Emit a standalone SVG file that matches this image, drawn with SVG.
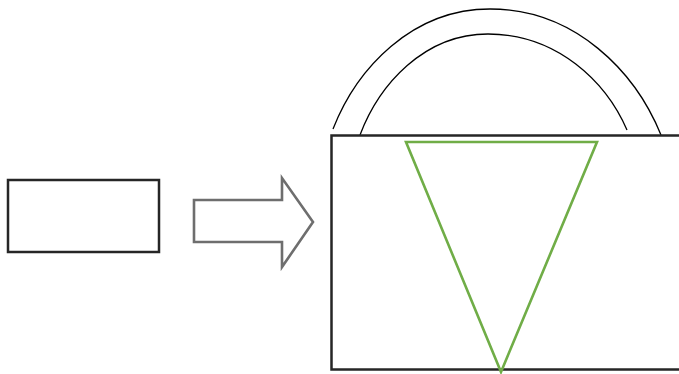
<svg xmlns="http://www.w3.org/2000/svg" width="679" height="374" viewBox="0 0 679 374">
<style>
.box{fill:#ffffff;stroke:#262626;stroke-width:2.5}
.arc{fill:none;stroke:#000000;stroke-width:1.3}
.tri{fill:none;stroke:#70AD47;stroke-width:2.6;stroke-linejoin:miter}
.blk{fill:#ffffff;stroke:#6e6e6e;stroke-width:2.6;stroke-linejoin:miter}
</style>
<defs>
<filter id="soft" x="-5%" y="-5%" width="110%" height="110%"><feGaussianBlur stdDeviation="0.5"/></filter>
</defs>
<rect width="679" height="374" fill="#ffffff"/>
<g id="source">
<rect class="box" x="8" y="180" width="151" height="72"/>
</g>
<g id="connectors">
<polygon class="blk" filter="url(#soft)" points="194,200 282,200 282,178 313,222 282,267 282,242 194,242"/>
</g>
<g id="target">
<path class="arc" d="M333,129 C356.5,69 411.5,9 490,9 C575.5,9 635.4,72 661,135"/>
<path class="arc" d="M360,135 C379.2,84.5 424,34 488,34 C557.5,34 606.2,82 627,130"/>
<rect class="box" x="331.5" y="135.5" width="360" height="234"/>
<polygon class="tri" points="406,142 597,142 501,372"/>
</g>
</svg>
